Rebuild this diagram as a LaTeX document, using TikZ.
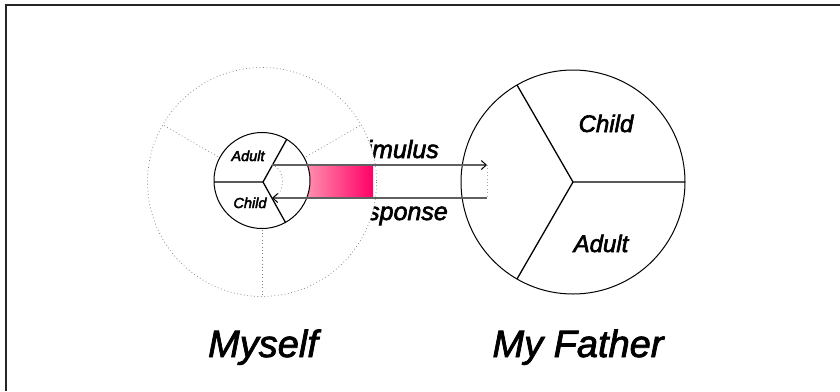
\documentclass[tikz,border=0pt]{standalone}
\usepackage{fontspec}
\setmainfont{Liberation Sans}
\usetikzlibrary{arrows.meta}
\definecolor{deeppink}{RGB}{255,0,102}
\definecolor{lightpink}{RGB}{255,145,175}
\definecolor{linegray}{RGB}{96,96,96}
\tikzset{
  dotline/.style={draw=gray, line width=0.7bp, dash pattern=on 0.8bp off 2.6bp},
  solidline/.style={draw=black, line width=1bp},
  yline/.style={draw=black, line width=1.3bp},
  flowarrow/.style={draw=linegray, line width=1.5bp, -{Straight Barb[length=5bp,width=9bp,line width=1bp,black]}},
  lbl/.style={inner sep=0pt, anchor=base},
}
\newcommand{\lblfont}[2]{\itshape\fontsize{#1}{#1}\selectfont\addfontfeatures{FakeBold=#2}}
\begin{document}
\begin{tikzpicture}[x=1bp,y=-1bp]
\useasboundingbox (0,0) rectangle (840,391);
% frame (only left and top visible)
\coordinate (f1) at (6,391);
\coordinate (f2) at (6,5);
\coordinate (f3) at (840,5);
\draw[line width=1.5bp, draw=black!85] (f1) -- (f2) -- (f3);

% labels partly hidden behind the left circle
\node[lbl, anchor=base east, font=\lblfont{25bp}{2.5}] (stim) at (439,158) {Stimulus};
\node[lbl, anchor=base east, font=\lblfont{25bp}{2.5}] (resp) at (448,220) {Response};

% left big dotted circle
\coordinate (lc) at (262,182);
\fill[white] (lc) circle[radius=114.5];
\draw[dotline] (lc) circle[radius=114.5];
\coordinate (ls1) at (361,125);
\coordinate (ls2) at (163,125);
\coordinate (ls3) at (262,297);
\draw[dotline] (lc) -- (ls1);
\draw[dotline] (lc) -- (ls2);
\draw[dotline] (lc) -- (ls3);

% pink gradient band
\coordinate (p1) at (306,165);
\coordinate (p2) at (373,198);
\shade[left color=lightpink, right color=deeppink] (p1) rectangle (p2);

% small circle
\coordinate (sc) at (262,180.5);
\fill[white] (sc) circle[radius=48];
\coordinate (sy) at (263,182);
\coordinate (sy1) at (200,182);
\coordinate (sy2) at (293,128);
\coordinate (sy3) at (293,236);
\begin{scope}
\clip (sc) circle[radius=48];
\draw[yline] (sy1) -- (sy) -- (sy2);
\draw[yline] (sy) -- (sy3);
\end{scope}
\draw[solidline] (sc) circle[radius=48];
\node[lbl, font=\lblfont{14.5bp}{3}] (sadult) at (248,161) {Adult};
\node[lbl, font=\lblfont{14.5bp}{3}] (schild) at (250,208) {Child};

% stimulus / response arrows
\coordinate (a1) at (272,165);
\coordinate (a2) at (487,165);
\coordinate (b1) at (487,198);
\coordinate (b2) at (272,198);
\draw[dotline] (a1) .. controls (286,168) and (286,195) .. (b2);

% right circle
\coordinate (rc) at (573,182);
\draw[solidline] (rc) circle[radius=112];
\coordinate (ry1) at (685,182);
\coordinate (ry2) at (517,85);
\coordinate (ry3) at (517,279);
\draw[yline] (ry1) -- (rc) -- (ry2);
\draw[yline] (rc) -- (ry3);
\node[lbl, font=\lblfont{24bp}{2.5}] (rchild) at (606,132) {Child};
\node[lbl, font=\lblfont{24bp}{2.5}] (radult) at (601,252) {Adult};

\draw[flowarrow] (a1) -- (a2);
\draw[flowarrow] (b1) -- (b2);
\draw[dotline, draw=gray!70] (a2) -- (b1);

% titles
\node[lbl, font=\lblfont{38bp}{2}] (myself) at (263,357) {Myself};
\node[lbl, font=\lblfont{38bp}{2}] (father) at (578,357) {My Father};
\end{tikzpicture}
\end{document}
